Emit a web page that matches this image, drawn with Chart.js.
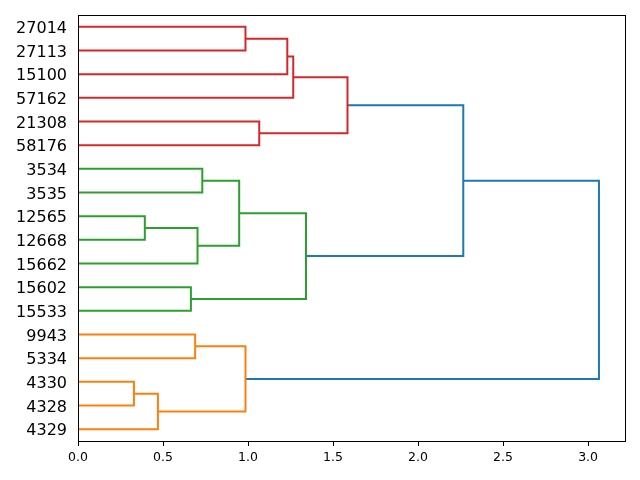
<!DOCTYPE html>
<html>
<head>
<meta charset="utf-8">
<script src="https://cdn.jsdelivr.net/npm/chart.js@4/dist/chart.umd.min.js"></script>
<style>
  body { margin: 0; background: #fff; }
</style>
</head>
<body>
<canvas id="dendro" width="640" height="480"></canvas>
<script>
// leaves, top to bottom
const leafLabels = ['27014', '27113', '15100', '57162', '21308', '58176',
    '3534', '3535', '12565', '12668', '15662', '15602', '15533',
    '9943', '5334', '4330', '4328', '4329'];

// merges: node ids 0..17 are leaves, merge k creates node 18 + k
const mergeLeft = [0, 18, 19, 4, 20, 6, 8, 24, 23, 11, 26, 13, 15, 30, 29, 22, 33];
const mergeRight = [1, 2, 3, 5, 21, 7, 9, 10, 25, 12, 27, 14, 16, 17, 31, 28, 32];
const mergeHeight = [0.985, 1.231, 1.266, 1.066, 1.585,
    0.731, 0.393, 0.703, 0.948, 0.664, 1.341,
    0.689, 0.329, 0.470, 0.985,
    2.266, 3.064];
const mergeCluster = [0, 0, 0, 0, 0, 1, 1, 1, 1, 1, 1, 2, 2, 2, 2, 3, 3];

const clusterColors = ['#d62728', '#2ca02c', '#ff7f0e', '#1f77b4'];

// position / height of every node
const nodePos = leafLabels.map((_, i) => 10 * i + 5);
const nodeHeight = leafLabels.map(() => 0);

const datasets = [];
mergeLeft.forEach((a, k) => {
    const b = mergeRight[k];
    const h = mergeHeight[k];
    datasets.push({
        data: [
            { x: nodeHeight[a], y: nodePos[a] },
            { x: h, y: nodePos[a] },
            { x: h, y: nodePos[b] },
            { x: nodeHeight[b], y: nodePos[b] }
        ],
        showLine: true,
        borderColor: clusterColors[mergeCluster[k]],
        borderWidth: 2,
        pointRadius: 0,
        fill: false,
        tension: 0
    });
    nodePos.push((nodePos[a] + nodePos[b]) / 2);
    nodeHeight.push(h);
});

const xTicks = [0, 0.5, 1, 1.5, 2, 2.5, 3];

// matplotlib style frame
const frame = {
    id: 'frame',
    afterDraw(chart) {
        const a = chart.chartArea;
        const c = chart.ctx;
        c.save();
        c.strokeStyle = '#000';
        c.lineWidth = 1;
        c.strokeRect(Math.round(a.left) + 0.5, Math.round(a.top) + 0.5,
            Math.round(a.right - a.left), Math.round(a.bottom - a.top));
        c.restore();
    }
};

const ctx = document.getElementById('dendro').getContext('2d');
new Chart(ctx, {
    type: 'scatter',
    data: { datasets: datasets },
    plugins: [frame],
    options: {
        responsive: false,
        animation: false,
        layout: { padding: { top: 15, right: 15, left: 0, bottom: 0 } },
        plugins: {
            legend: { display: false },
            tooltip: { enabled: false }
        },
        scales: {
            x: {
                type: 'linear',
                min: 0,
                max: Math.max(...mergeHeight) * 1.05,
                afterBuildTicks: (axis) => { axis.ticks = xTicks.map(v => ({ value: v })); },
                afterFit: (axis) => {
                    axis.height = 39;
                    axis.paddingLeft = 0;
                    axis.paddingRight = 0;
                },
                grid: { drawOnChartArea: false, drawTicks: true, tickLength: 5, color: '#000' },
                border: { display: false },
                ticks: {
                    color: '#000',
                    padding: 4,
                    maxRotation: 0,
                    font: { family: 'DejaVu Sans', size: 12.5 },
                    callback: (v) => Number(v).toFixed(1)
                }
            },
            y: {
                type: 'linear',
                min: 0,
                max: 10 * leafLabels.length,
                reverse: true,
                afterBuildTicks: (axis) => { axis.ticks = leafLabels.map((_, i) => ({ value: 10 * i + 5 })); },
                afterFit: (axis) => {
                    axis.width = 78;
                    axis.paddingTop = 0;
                    axis.paddingBottom = 0;
                },
                grid: { display: false, drawTicks: false },
                border: { display: false },
                ticks: {
                    color: '#000',
                    padding: 11,
                    labelOffset: 2,
                    autoSkip: false,
                    font: { family: 'DejaVu Sans', size: 16 },
                    callback: (v) => leafLabels[Math.round((v - 5) / 10)]
                }
            }
        }
    }
});
</script>
</body>
</html>
